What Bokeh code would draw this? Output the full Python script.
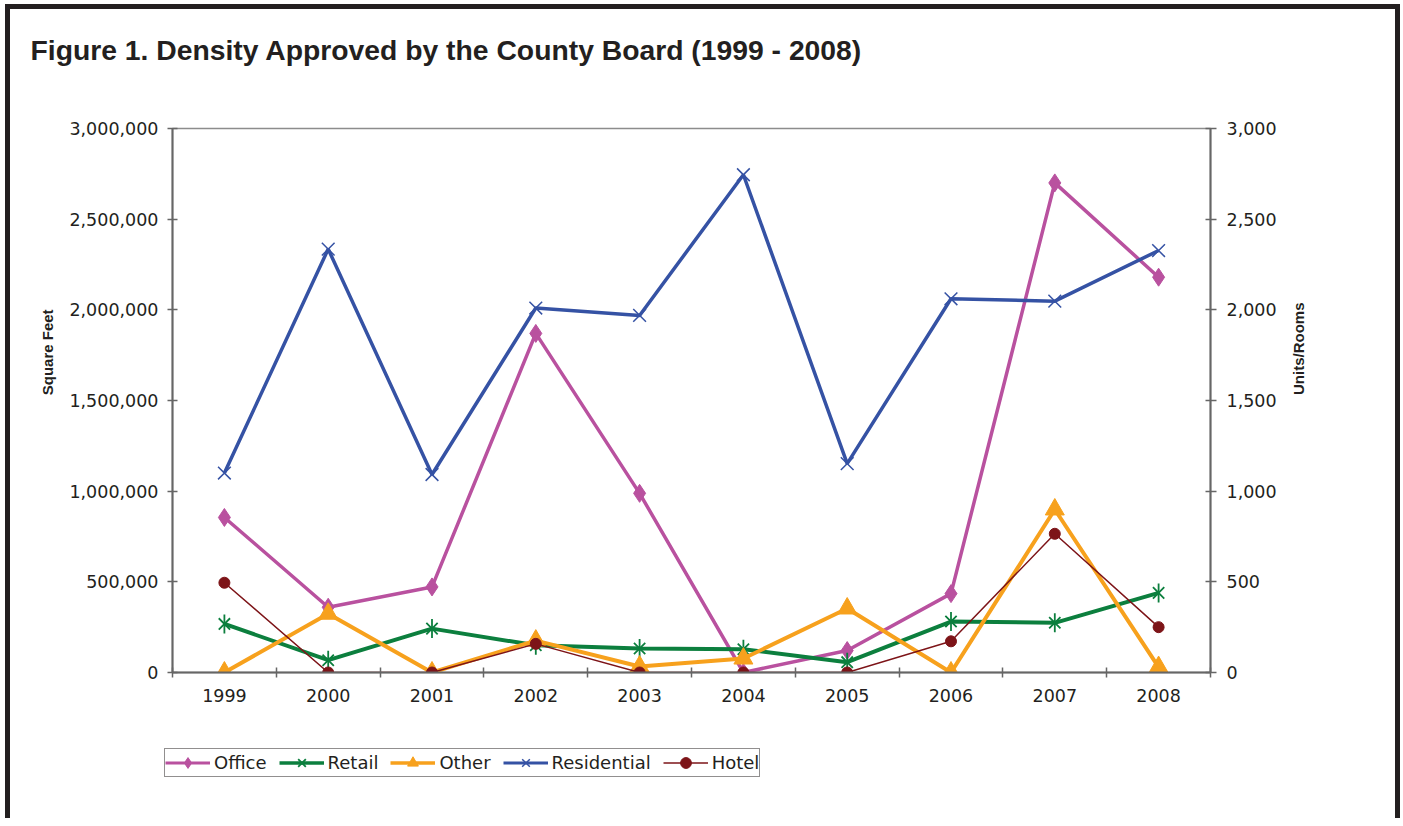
import math
from bokeh.plotting import figure
from bokeh.layouts import column, row
from bokeh.models import (Range1d, LinearAxis, FixedTicker, NumeralTickFormatter,
                          Legend, LegendItem)
from bokeh.core.properties import value
from bokeh.embed import file_html
from bokeh.resources import INLINE

# ---- data ----
years = ["1999", "2000", "2001", "2002", "2003", "2004", "2005", "2006", "2007", "2008"]
office = [855000, 360000, 472000, 1870000, 988000, 0, 121000, 435000, 2700000, 2180000]
retail = [268000, 68000, 242000, 150000, 132000, 128000, 57000, 281000, 274000, 439000]
other = [0, 324000, 0, 176000, 33000, 77000, 353000, 0, 899000, 30000]
residential = [1100, 2335, 1092, 2010, 1969, 2745, 1152, 2061, 2048, 2327]
hotel = [495, 0, 0, 158, 0, 0, 0, 172, 765, 250]

sqft_ticks = [0, 500000, 1000000, 1500000, 2000000, 2500000, 3000000]
unit_ticks = [0, 500, 1000, 1500, 2000, 2500, 3000]

series_names = ["Office", "Retail", "Other", "Residential", "Hotel"]
title_text = "Figure 1. Density Approved by the County Board (1999 - 2008)"
left_title = "Square Feet"
right_title = "Units/Rooms"

xs = list(range(len(years)))

TXT = "#231f20"
AX = "#666666"
TICK_FONT = "DejaVu Sans"
HEAD_FONT = "Liberation Sans"
TICK_SIZE = "17.5px"

C_OFF = "#b9519f"
C_RET = "#0c7f3e"
C_OTH = "#f7a11d"
C_RES = "#3552a4"
C_HOT = "#7d1418"

# page geometry (pixels)
W_TOTAL, H_TOTAL = 1400, 818
TOP_H = 110
MID_H = 610
BOT_H = H_TOTAL - TOP_H - MID_H
L_W, R_W = 60, 120
M_W = W_TOTAL - L_W - R_W


def strip(w, h, xr, yr):
    f = figure(width=w, height=h, x_range=xr, y_range=yr, output_backend="svg",
               toolbar_location=None, tools="", min_border=0,
               min_border_left=0, min_border_right=0, min_border_top=0, min_border_bottom=0,
               x_axis_location=None, y_axis_location=None,
               outline_line_color=None, background_fill_color=None, border_fill_color=None)
    f.grid.visible = False
    return f


# ---- title strip ----
T = strip(W_TOTAL, TOP_H, Range1d(0, W_TOTAL), Range1d(TOP_H, 0))
T.text(x=[30], y=[49], text=[title_text], text_font=value(HEAD_FONT),
       text_font_style="bold", text_font_size=value("28.3px"), text_color=TXT,
       text_baseline="alphabetic", text_align="left")

# ---- left / right strips with the axis titles ----
L = strip(L_W, MID_H, Range1d(0, L_W), Range1d(TOP_H + MID_H, TOP_H))
L.text(x=[47], y=[361], text=[left_title], angle=math.pi / 2,
       text_font=value(HEAD_FONT), text_font_style="bold", text_font_size=value("15px"),
       text_color=TXT, text_align="center", text_baseline="middle")

R = strip(R_W, MID_H, Range1d(W_TOTAL - R_W, W_TOTAL), Range1d(TOP_H + MID_H, TOP_H))
R.text(x=[1298], y=[357], text=[right_title], angle=math.pi / 2,
       text_font=value(HEAD_FONT), text_font_style="bold", text_font_size=value("15px"),
       text_color=TXT, text_align="center", text_baseline="middle")

# ---- main chart ----
p = figure(width=M_W, height=MID_H, output_backend="svg", toolbar_location=None, tools="",
           x_range=Range1d(-0.5, len(years) - 0.5), y_range=Range1d(0, 3000000),
           min_border_left=112, min_border_right=70, min_border_top=18, min_border_bottom=48,
           border_fill_color=None, background_fill_color="white",
           outline_line_color="#8c8c8c", outline_line_width=1.5)
p.extra_y_ranges = {"units": Range1d(0, 3000)}
p.xgrid.visible = False
p.ygrid.visible = False

xa = p.xaxis[0]
xa.ticker = FixedTicker(ticks=xs, minor_ticks=[i - 0.5 for i in range(len(years) + 1)])
xa.major_label_overrides = {i: y for i, y in zip(xs, years)}
xa.major_tick_line_color = None
xa.minor_tick_line_color = AX
xa.minor_tick_line_width = 1.5
xa.minor_tick_in = 5
xa.minor_tick_out = 5
xa.axis_line_color = AX
xa.axis_line_width = 2
xa.major_label_standoff = 10
xa.major_label_text_font = TICK_FONT
xa.major_label_text_font_size = TICK_SIZE
xa.major_label_text_color = TXT

ya = p.yaxis[0]
ya.ticker = FixedTicker(ticks=sqft_ticks)
ya.formatter = NumeralTickFormatter(format="0,0")
ya.minor_tick_line_color = None
ya.major_tick_line_color = AX
ya.major_tick_line_width = 1.5
ya.major_tick_in = 5
ya.major_tick_out = 5
ya.axis_line_color = AX
ya.axis_line_width = 2
ya.major_label_standoff = 9
ya.major_label_text_font = TICK_FONT
ya.major_label_text_font_size = TICK_SIZE
ya.major_label_text_color = TXT

ra = LinearAxis(y_range_name="units", ticker=FixedTicker(ticks=unit_ticks),
                formatter=NumeralTickFormatter(format="0,0"))
ra.minor_tick_line_color = None
ra.major_tick_line_color = AX
ra.major_tick_line_width = 1.5
ra.major_tick_in = 5
ra.major_tick_out = 6
ra.axis_line_color = AX
ra.axis_line_width = 2
ra.major_label_standoff = 10
ra.major_label_text_font = TICK_FONT
ra.major_label_text_font_size = TICK_SIZE
ra.major_label_text_color = TXT
p.add_layout(ra, "right")

# marker recipe per series: list of (marker, size, line width, filled, angle)
styles = [
    dict(color=C_OFF, lw=3.5, marks=[("diamond", 18, 1, True, 0.0)], rng="default"),
    dict(color=C_RET, lw=4, marks=[("x", 16, 1.8, False, 0.0), ("dash", 19, 1.8, False, math.pi / 2)],
         rng="default"),
    dict(color=C_OTH, lw=4, marks=[("triangle", 19, 1, True, 0.0)], rng="default"),
    dict(color=C_RES, lw=3.5, marks=[("x", 18, 1.5, False, 0.0)], rng="units"),
    dict(color=C_HOT, lw=1.5, marks=[("circle", 11, 1, True, 0.0)], rng="units"),
]
values = [office, retail, other, residential, hotel]

for vals, st in zip(values, styles):
    p.line(xs, vals, line_color=st["color"], line_width=st["lw"], y_range_name=st["rng"])
    for mk, sz, mlw, filled, ang in st["marks"]:
        p.scatter(xs, vals, marker=mk, size=sz, angle=ang, line_color=st["color"],
                  line_width=mlw, fill_color=st["color"] if filled else None,
                  y_range_name=st["rng"])

# ---- legend strip (legend-only renderers, hidden, carrying the same series) ----
B = strip(W_TOTAL, BOT_H, Range1d(0, W_TOTAL), Range1d(H_TOTAL, TOP_H + MID_H))
items = []
for name, vals, st in zip(series_names, values, styles):
    lr = B.line(xs, vals, line_color=st["color"], line_width=st["lw"] * 0.85, visible=False)
    rs = [lr]
    for mk, sz, mlw, filled, ang in st["marks"]:
        rs.append(B.scatter(xs, vals, marker=mk, size=sz, angle=ang,
                            line_color=st["color"], line_width=mlw,
                            fill_color=st["color"] if filled else None, visible=False))
    items.append(LegendItem(label=name, renderers=rs))

legend = Legend(items=items, orientation="horizontal", location=(164, 41),
                padding=0, margin=0, spacing=12, glyph_width=45, glyph_height=27,
                label_standoff=4, label_height=20,
                label_text_font=TICK_FONT, label_text_font_size="18px", label_text_color=TXT,
                border_line_color="#231f20", border_line_width=1.2,
                background_fill_color="white", background_fill_alpha=1,
                inactive_fill_alpha=0.0)
B.add_layout(legend)

layout = column(T, row(L, p, R), B,
                styles={"box-shadow": "inset 5px 4px 0 0 #ffffff, inset 10px 9px 0 0 #231f20, "
                                      "inset -5px 0 0 0 #231f20"})

open("out.html", "w").write(file_html(layout, INLINE))
